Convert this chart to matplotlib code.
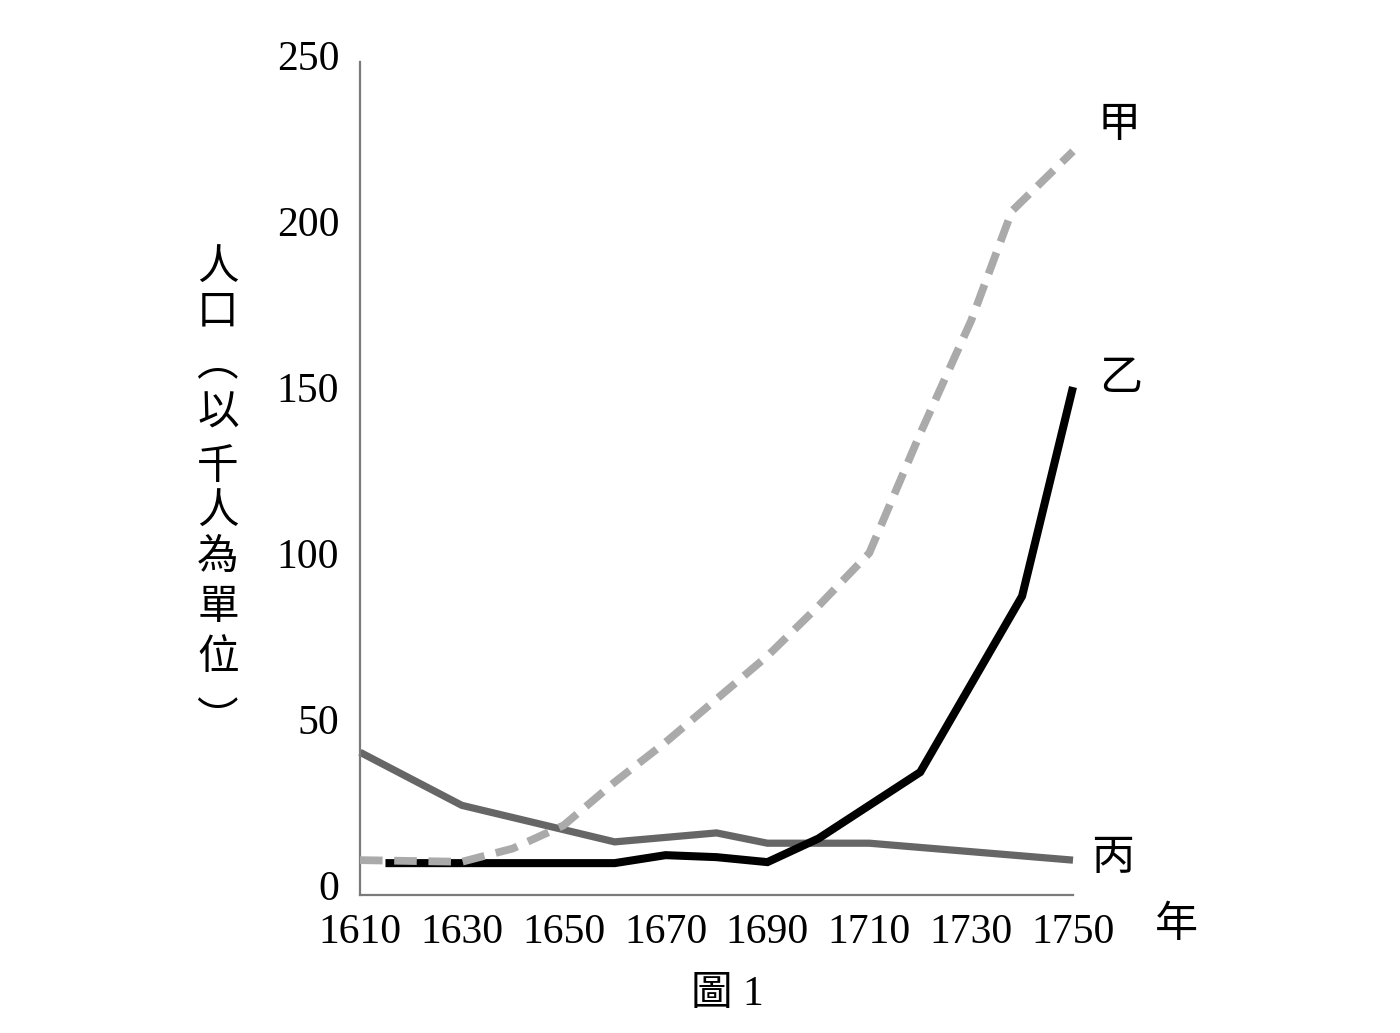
import matplotlib
matplotlib.use("Agg")
import matplotlib.pyplot as plt

# ---- data (population, thousands) ----
jia_years = [1610, 1630, 1640, 1650, 1660, 1670, 1680, 1690, 1700, 1710, 1720, 1730, 1738, 1750]
jia_vals  = [7.5, 7.0, 11.0, 18.0, 31.0, 43.0, 56.0, 69.0, 84.0, 100.0, 136.0, 170.0, 203.0, 221.0]

yi_years = [1615, 1660, 1670, 1680, 1690, 1700, 1710, 1720, 1740, 1750]
yi_vals  = [6.6, 6.6, 9.0, 8.4, 6.9, 14.0, 24.0, 34.0, 87.0, 150.0]

bing_years = [1610, 1630, 1660, 1680, 1690, 1710, 1750]
bing_vals  = [40.0, 24.0, 13.0, 15.7, 12.6, 12.6, 7.5]

x_ticks = [1610, 1630, 1650, 1670, 1690, 1710, 1730, 1750]
y_ticks = [0, 50, 100, 150, 200, 250]

series_labels = ["甲", "乙", "丙"]
x_unit = "年"
y_label_chars = ["人", "口", "︵", "以", "千", "人", "為", "單", "位", "︶"]
caption = "圖 1"

W, H = 1400, 1033
fig = plt.figure(figsize=(W / 100, H / 100), dpi=100)
fig.patch.set_facecolor("white")

ax = fig.add_axes([360 / W, 138 / H, 713 / W, 843.3 / H])
ax.set_xlim(1610, 1750)
ax.set_ylim(-3, 251)

ax.plot(bing_years, bing_vals, color="#666666", lw=5.2, solid_capstyle="butt",
        solid_joinstyle="miter", zorder=2, clip_on=False)
ax.plot(yi_years, yi_vals, color="#000000", lw=5.8, solid_capstyle="butt",
        solid_joinstyle="miter", zorder=3, clip_on=False)
ax.plot(jia_years, jia_vals, color="#aaaaaa", lw=5.6, linestyle=(0, (2.9, 1.5)),
        dash_capstyle="butt", zorder=4, clip_on=False)

for s in ["top", "right"]:
    ax.spines[s].set_visible(False)
for s in ["left", "bottom"]:
    ax.spines[s].set_color("#7a7a7a")
    ax.spines[s].set_linewidth(1.6)
ax.spines["left"].set_bounds(-3, 248)

serif = ["Liberation Serif", "Noto Sans CJK TC"]
ax.set_xticks(x_ticks)
ax.set_yticks(y_ticks)
ax.set_xticklabels([str(v) for v in x_ticks], fontsize=30, family=serif)
ax.set_yticklabels([str(v) for v in y_ticks], fontsize=30, family=serif)
ax.tick_params(axis="both", length=0)
ax.tick_params(axis="x", pad=13)
ax.tick_params(axis="y", pad=15)

def ftext(x, y, s, **kw):
    return fig.text(x / W, 1 - y / H, s, **kw)

cjk = ["Noto Sans CJK TC", "DejaVu Sans"]
ftext(1119, 125, series_labels[0], fontsize=31, family=cjk, ha="center", va="center")
ftext(1121, 378, series_labels[1], fontsize=31, family=cjk, ha="center", va="center")
ftext(1113, 858, series_labels[2], fontsize=31, family=cjk, ha="center", va="center")
ftext(1176, 925, x_unit, fontsize=31, family=cjk, ha="center", va="center")
ftext(727, 995, caption, fontsize=30, family=serif, ha="center", va="center")

# vertical y-axis label, one character per row
# (the vertical-form brackets sit at the bottom/top of their em box, so their
#  anchors are shifted to put the visible arc where the reference shows it)
y_label_pos = [268, 312, 364, 413, 468, 512, 557, 607, 657, 720]
for ch, yy in zip(y_label_chars, y_label_pos):
    ftext(218, yy, ch, fontsize=30, family=cjk, ha="center", va="center")

fig.savefig("out.png", dpi=100, facecolor="white")
